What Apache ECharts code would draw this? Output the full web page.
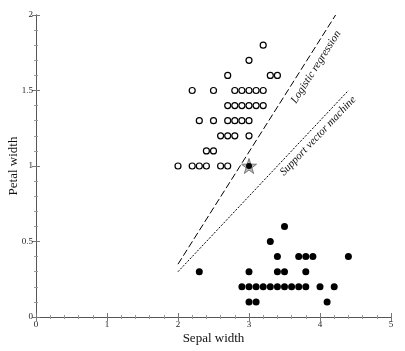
<!DOCTYPE html>
<html>
<head>
<meta charset="utf-8">
<script src="https://cdn.jsdelivr.net/npm/echarts@6/dist/echarts.min.js"></script>
<style>
html, body { margin: 0; padding: 0; background: #fff; }
#chart { width: 405px; height: 351px; }
</style>
</head>
<body>
<div id="chart"></div>
<script>
// 数据 (sepal width, petal width)
var openPoints = [
    [3.2, 1.8],
    [3.0, 1.7],
    [2.7, 1.6], [3.3, 1.6], [3.4, 1.6],
    [2.2, 1.5], [2.5, 1.5], [2.8, 1.5], [2.9, 1.5], [3.0, 1.5], [3.1, 1.5], [3.2, 1.5],
    [2.7, 1.4], [2.8, 1.4], [2.9, 1.4], [3.0, 1.4], [3.1, 1.4], [3.2, 1.4],
    [2.3, 1.3], [2.5, 1.3], [2.7, 1.3], [2.8, 1.3], [2.9, 1.3], [3.0, 1.3],
    [2.6, 1.2], [2.7, 1.2], [2.8, 1.2], [3.0, 1.2],
    [2.4, 1.1], [2.5, 1.1],
    [2.0, 1.0], [2.2, 1.0], [2.3, 1.0], [2.4, 1.0], [2.6, 1.0], [2.7, 1.0]
];
var filledPoints = [
    [3.5, 0.6],
    [3.3, 0.5],
    [3.4, 0.4], [3.7, 0.4], [3.8, 0.4], [3.9, 0.4], [4.4, 0.4],
    [2.3, 0.3], [3.0, 0.3], [3.4, 0.3], [3.5, 0.3], [3.8, 0.3],
    [2.9, 0.2], [3.0, 0.2], [3.1, 0.2], [3.2, 0.2], [3.3, 0.2], [3.4, 0.2], [3.5, 0.2],
    [3.6, 0.2], [3.7, 0.2], [3.8, 0.2], [4.0, 0.2], [4.2, 0.2],
    [3.0, 0.1], [3.1, 0.1], [4.1, 0.1]
];
var starPoint = [[3.0, 1.0]];
var logisticLine = [[2.0, 0.35], [4.22, 2.0]];
var svmLine = [[2.0, 0.3], [4.4, 1.5]];

var starPath = 'path://M50,0 L61.8,35.3 L98.9,35.3 L68.8,57.3 L80.2,92.7 L50,70.8 L19.8,92.7 L31.2,57.3 L1.1,35.3 L38.2,35.3 Z';
var serif = '"Liberation Serif", "DejaVu Serif", serif';

var chart = echarts.init(document.getElementById('chart'));

var axisBase = {
    type: 'value',
    axisLine: { show: true, lineStyle: { color: '#555', width: 1 } },
    axisTick: { show: true, inside: true, length: 4, lineStyle: { color: '#777' } },
    minorTick: { show: true, splitNumber: 5, length: 2, lineStyle: { color: '#999' } },
    splitLine: { show: false },
    axisLabel: { color: '#222', fontFamily: serif, fontSize: 9 }
};

chart.setOption({
    animation: false,
    grid: { left: 36, right: 14, top: 15, bottom: 34, outerBoundsMode: 'none', containLabel: false },
    xAxis: [
        echarts.util.merge({
            min: 0, max: 5, interval: 1,
            name: 'Sepal width', nameLocation: 'middle', nameGap: 15, nameMoveOverlap: false,
            nameTextStyle: { fontFamily: serif, fontSize: 13, color: '#111' },
            axisLabel: { margin: 3 }
        }, axisBase, false),
        echarts.util.merge({
            min: 0, max: 5, interval: 1, position: 'top',
            axisLabel: { show: false }
        }, axisBase, false)
    ],
    yAxis: [
        echarts.util.merge({
            min: 0, max: 2, interval: 0.5,
            name: 'Petal width', nameLocation: 'middle', nameGap: 16, nameMoveOverlap: false,
            nameTextStyle: { fontFamily: serif, fontSize: 13, color: '#111' },
            axisLabel: { margin: 3 }
        }, axisBase, false),
        echarts.util.merge({
            min: 0, max: 2, interval: 0.5, position: 'right',
            axisLabel: { show: false }
        }, axisBase, false)
    ],
    series: [
        {
            name: 'Logistic regression',
            type: 'line',
            data: logisticLine,
            symbol: 'none',
            clip: false,
            lineStyle: { color: '#000', width: 1, type: [7, 3] }
        },
        {
            name: 'Support vector machine',
            type: 'line',
            data: svmLine,
            symbol: 'none',
            lineStyle: { color: '#000', width: 1, type: [2, 1.5] }
        },
        {
            name: 'open',
            type: 'scatter',
            data: openPoints,
            symbol: 'circle',
            symbolSize: 6,
            itemStyle: { color: '#fff', borderColor: '#000', borderWidth: 1.2, opacity: 1 }
        },
        {
            name: 'filled',
            type: 'scatter',
            data: filledPoints,
            symbol: 'circle',
            symbolSize: 7,
            itemStyle: { color: '#000', opacity: 1 }
        },
        {
            name: 'star',
            type: 'scatter',
            data: starPoint,
            symbol: starPath,
            symbolSize: 15,
            itemStyle: { color: '#bbb', borderColor: '#777', borderWidth: 1, opacity: 1 }
        },
        {
            name: 'starDot',
            type: 'scatter',
            data: starPoint,
            symbol: 'circle',
            symbolSize: 6,
            itemStyle: { color: '#000', opacity: 1 }
        }
    ],
    graphic: [
        {
            type: 'text',
            x: 316, y: 67,
            rotation: 57.7 * Math.PI / 180,
            style: {
                text: 'Logistic regression',
                font: 'italic 11px ' + serif,
                fill: '#111',
                align: 'center',
                verticalAlign: 'middle'
            }
        },
        {
            type: 'text',
            x: 318, y: 136,
            rotation: 46.5 * Math.PI / 180,
            style: {
                text: 'Support vector machine',
                font: 'italic 11px ' + serif,
                fill: '#111',
                align: 'center',
                verticalAlign: 'middle'
            }
        }
    ]
});
</script>
</body>
</html>
